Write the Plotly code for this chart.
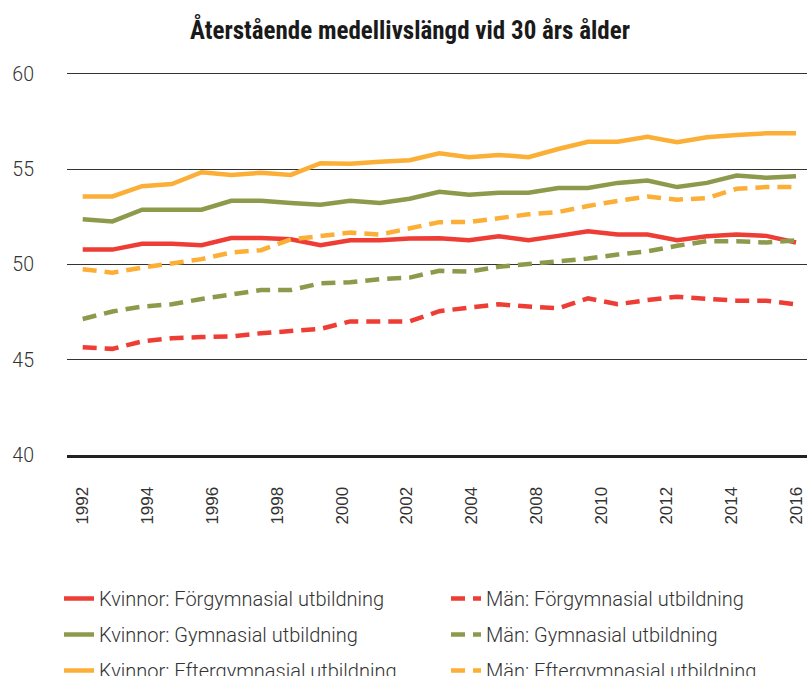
import plotly.graph_objects as go

years = list(range(1992, 2017))

kvinnor_forgymnasial = [50.78, 50.78, 51.08, 51.08, 51.01, 51.39, 51.39, 51.32, 51.01, 51.27, 51.27, 51.36,
                        51.38, 51.27, 51.48, 51.27, 51.50, 51.74, 51.57, 51.57, 51.27, 51.48, 51.57, 51.50, 51.15]
kvinnor_gymnasial = [52.37, 52.26, 52.87, 52.87, 52.87, 53.34, 53.34, 53.22, 53.13, 53.34, 53.22, 53.45,
                     53.81, 53.66, 53.76, 53.76, 54.01, 54.01, 54.28, 54.40, 54.06, 54.28, 54.67, 54.55, 54.63]
kvinnor_eftergymnasial = [53.57, 53.57, 54.11, 54.22, 54.84, 54.70, 54.81, 54.70, 55.31, 55.29, 55.39, 55.47,
                          55.83, 55.63, 55.75, 55.63, 56.06, 56.44, 56.44, 56.70, 56.41, 56.67, 56.79, 56.88, 56.88]
man_forgymnasial = [45.65, 45.57, 45.96, 46.13, 46.19, 46.22, 46.39, 46.52, 46.62, 47.01, 47.01, 47.01,
                    47.55, 47.74, 47.91, 47.79, 47.70, 48.22, 47.91, 48.13, 48.31, 48.19, 48.10, 48.10, 47.91]
man_gymnasial = [47.14, 47.53, 47.79, 47.91, 48.19, 48.40, 48.66, 48.66, 49.01, 49.06, 49.23, 49.31,
                 49.67, 49.62, 49.88, 50.02, 50.17, 50.31, 50.52, 50.69, 50.98, 51.22, 51.22, 51.15, 51.27]
man_eftergymnasial = [49.75, 49.57, 49.83, 50.05, 50.28, 50.63, 50.75, 51.31, 51.50, 51.67, 51.57, 51.88,
                      52.22, 52.23, 52.44, 52.63, 52.75, 53.07, 53.33, 53.57, 53.40, 53.48, 53.97, 54.06, 54.06]

tick_labels = ["1992", "1994", "1996", "1998", "2000", "2002", "2004", "2008", "2010", "2012", "2014", "2016"]
y_ticks = [40, 45, 50, 55, 60]

RED = "#EE3D35"
GREEN = "#8E9A4B"
ORANGE = "#FBAF36"

DASH = "14px,8px"
series = [
    ("Kvinnor: Förgymnasial utbildning", kvinnor_forgymnasial, RED, "solid", "legend"),
    ("Kvinnor: Gymnasial utbildning", kvinnor_gymnasial, GREEN, "solid", "legend"),
    ("Kvinnor: Eftergymnasial utbildning", kvinnor_eftergymnasial, ORANGE, "solid", "legend"),
    ("Män: Förgymnasial utbildning", man_forgymnasial, RED, DASH, "legend2"),
    ("Män: Gymnasial utbildning", man_gymnasial, GREEN, DASH, "legend2"),
    ("Män: Eftergymnasial utbildning", man_eftergymnasial, ORANGE, DASH, "legend2"),
]

fig = go.Figure()
for i, (name, vals, color, dash, leg) in enumerate(series):
    fig.add_trace(go.Scatter(
        x=years, y=vals, name=name, mode="lines",
        line=dict(color=color, width=4.5, dash=dash),
        legend=leg, legendgroup=f"g{i}",
    ))

W, H = 807, 676
ml, mr, mt, mb = 67, 0, 72, 221
pw = W - ml - mr
ph = H - mt - mb
plot_bottom = mt + ph

n = len(tick_labels)
tickvals = [years[0] + k * (years[-1] - years[0]) / (n - 1) for k in range(n)]

font_narrow = "Liberation Sans Narrow, Roboto Condensed, DejaVu Sans Condensed, Liberation Sans, Arial, sans-serif"
font_light = "Roboto, Liberation Sans, Arial, sans-serif"

legend_top = 579
fig.update_layout(
    width=W, height=H,
    margin=dict(l=ml, r=mr, t=mt, b=mb, autoexpand=False),
    plot_bgcolor="white", paper_bgcolor="white",
    title=dict(text="<b>Återstående medellivslängd vid 30 års ålder</b>",
               x=410 / W, xanchor="center", y=1 - 30 / H, yanchor="middle",
               font=dict(family=font_narrow, size=25, color="#1a1a1a")),
    xaxis=dict(
        range=[1991.472, 2016.37], tickmode="array", tickvals=tickvals, ticktext=tick_labels,
        tickangle=-90, tickfont=dict(family="Liberation Sans, Arial, sans-serif", size=17, color="#333333"),
        showgrid=False, zeroline=False, showline=True, linewidth=3, linecolor="#222222",
        ticks="", ticklabelstandoff=22,
    ),
    yaxis=dict(
        range=[40, 60.1], tickmode="array", tickvals=y_ticks,
        tickfont=dict(family=font_light, size=19.5, color="#333333", weight=300),
        showgrid=True, gridcolor="#333333", gridwidth=1.3, zeroline=False, showline=False,
        ticks="", ticklabelstandoff=32,
    ),
    legend=dict(
        x=(59 - ml) / pw, xanchor="left", y=-(legend_top - plot_bottom) / ph,
        yanchor="top", orientation="v", tracegroupgap=7,
        font=dict(family=font_light, size=20, color="#333333", weight=300), bgcolor="rgba(0,0,0,0)",
    ),
    legend2=dict(
        x=(446 - ml) / pw, xanchor="left", y=-(legend_top - plot_bottom) / ph,
        yanchor="top", orientation="v", tracegroupgap=7,
        font=dict(family=font_light, size=20, color="#333333", weight=300), bgcolor="rgba(0,0,0,0)",
    ),
)

fig.write_html("out.html", config={"displayModeBar": False},
               post_script="document.body.style.margin='0';document.body.style.overflow='hidden';")
